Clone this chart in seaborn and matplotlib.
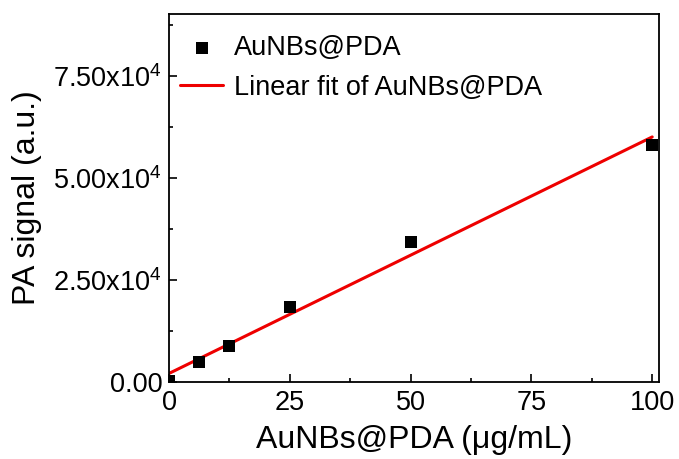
import numpy as np
import pandas as pd
import matplotlib
matplotlib.use("Agg")
import matplotlib.pyplot as plt
import seaborn as sns
from matplotlib.ticker import FuncFormatter, MultipleLocator

conc = [0, 6.25, 12.5, 25, 50, 100]
signal = [300, 4900, 8800, 18400, 34300, 58100]

df = pd.DataFrame({"conc": conc, "signal": signal})

# linear fit
slope, intercept = np.polyfit(df["conc"], df["signal"], 1)
fit_x = np.array([0, 100])
fit = pd.DataFrame({"conc": fit_x, "signal": slope * fit_x + intercept})

sns.set_style("ticks")
plt.rcParams["font.family"] = ["Liberation Sans", "DejaVu Sans"]
plt.rcParams["mathtext.fontset"] = "custom"
plt.rcParams["mathtext.rm"] = "Liberation Sans"
plt.rcParams["mathtext.it"] = "Liberation Sans"
plt.rcParams["text.color"] = "black"
plt.rcParams["axes.labelcolor"] = "black"

fig = plt.figure(figsize=(6.79, 4.59), dpi=100)
ax = fig.add_axes([0.249, 0.168, 0.7215, 0.8015])

sns.lineplot(data=fit, x="conc", y="signal", color="#ee0000", linewidth=2.2,
             label="Linear fit of AuNBs@PDA", ax=ax, zorder=2)
sns.scatterplot(data=df, x="conc", y="signal", marker="s", color="black",
                s=85, edgecolor="black", linewidth=0, label="AuNBs@PDA",
                ax=ax, zorder=3, clip_on=True)

ax.set_xlim(0, 101.4)
ax.set_ylim(0, 90200)
ax.xaxis.set_major_locator(MultipleLocator(25))
ax.xaxis.set_minor_locator(MultipleLocator(12.5))
ax.yaxis.set_major_locator(MultipleLocator(25000))
ax.yaxis.set_minor_locator(MultipleLocator(12500))


def yfmt(v, pos):
    if v == 0:
        return "0.00"
    return "%.2fx10$^{4}$" % (v / 1e4)


ax.yaxis.set_major_formatter(FuncFormatter(yfmt))
ax.tick_params(which="both", direction="in", top=False, right=False,
               width=1.2, colors="black")
ax.tick_params(which="major", length=6, labelsize=19.5)
ax.tick_params(axis="x", which="major", pad=6)
ax.tick_params(axis="y", which="major", pad=5)
ax.tick_params(which="minor", length=3)
for sp in ax.spines.values():
    sp.set_linewidth(1.3)
    sp.set_color("black")

ax.set_xlabel("AuNBs@PDA (μg/mL)", fontsize=23, labelpad=6)
ax.set_ylabel("PA signal (a.u.)", fontsize=23, labelpad=8)

handles, labels = ax.get_legend_handles_labels()
order = [labels.index("AuNBs@PDA"), labels.index("Linear fit of AuNBs@PDA")]
ax.legend([handles[i] for i in order], [labels[i] for i in order],
          loc="upper left", frameon=False, fontsize=19.5, handlelength=1.6,
          handletextpad=0.4, borderaxespad=0, borderpad=0, labelspacing=0.5,
          bbox_to_anchor=(0.022, 0.942))

fig.savefig("out.png", dpi=100)
